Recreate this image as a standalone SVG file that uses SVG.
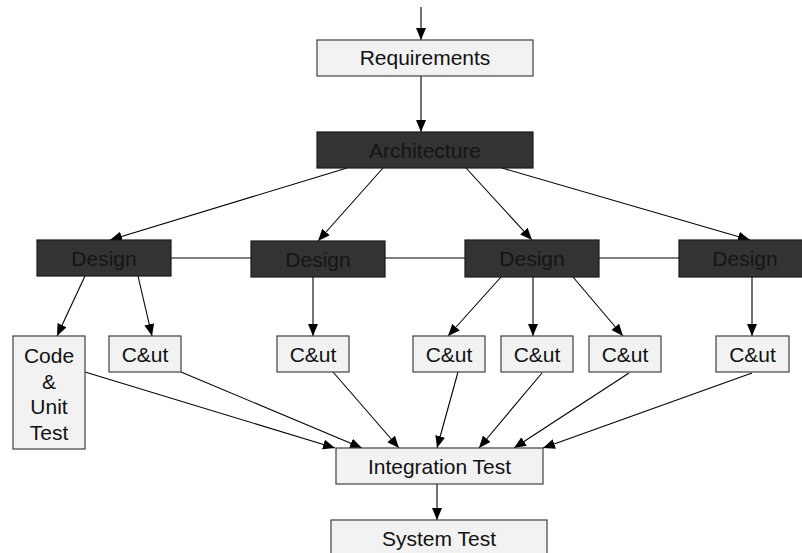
<svg xmlns="http://www.w3.org/2000/svg" width="802" height="553" viewBox="0 0 802 553">
<style>
.l{fill:#f2f2f2;stroke:#404040;stroke-width:1.2}
.d{fill:#333333;stroke:#1a1a1a;stroke-width:1.2}
text{font-family:"Liberation Sans",Arial,sans-serif;font-size:21px;text-anchor:middle}
.lt{fill:#111111}
.dt{fill:#151515}
.c line{stroke:#000;stroke-width:1.1}
.c line.a{marker-end:url(#ah)}
</style>
<defs>
<marker id="ah" markerUnits="userSpaceOnUse" markerWidth="13" markerHeight="11" refX="12" refY="5" orient="auto">
<path d="M0,0 L12,5 L0,10 z" fill="#000"/>
</marker>
</defs>
<rect width="802" height="553" fill="#fff"/>
<g class="c" id="connectors">
<line class="a" x1="421" y1="7" x2="421" y2="40"/>
<line class="a" x1="421" y1="76" x2="421" y2="132"/>
<line class="a" x1="347" y1="168" x2="110" y2="240"/>
<line class="a" x1="383" y1="168" x2="318" y2="241"/>
<line class="a" x1="466" y1="168" x2="532" y2="240"/>
<line class="a" x1="502" y1="168" x2="750" y2="240"/>
<line x1="171" y1="258" x2="251" y2="258"/>
<line x1="385" y1="258" x2="465" y2="258"/>
<line x1="599" y1="258" x2="679" y2="258"/>
<line class="a" x1="85" y1="276" x2="57" y2="336"/>
<line class="a" x1="138" y1="276" x2="152" y2="336"/>
<line class="a" x1="313" y1="277" x2="313" y2="336"/>
<line class="a" x1="501" y1="277" x2="448" y2="336"/>
<line class="a" x1="533" y1="277" x2="533" y2="336"/>
<line class="a" x1="573" y1="277" x2="623" y2="336"/>
<line class="a" x1="752" y1="277" x2="752" y2="336"/>
<line class="a" x1="85" y1="372" x2="335" y2="448"/>
<line class="a" x1="181" y1="372" x2="362" y2="448"/>
<line class="a" x1="333" y1="372" x2="399" y2="448"/>
<line class="a" x1="458" y1="372" x2="437" y2="448"/>
<line class="a" x1="542" y1="373" x2="479" y2="448"/>
<line class="a" x1="629" y1="373" x2="514" y2="448"/>
<line class="a" x1="752" y1="373" x2="543" y2="448"/>
<line class="a" x1="437" y1="484" x2="437" y2="520"/>
</g>
<g id="requirements"><rect class="l" x="317" y="40" width="216" height="36"/><text class="lt" x="425" y="65">Requirements</text></g>
<g id="architecture"><rect class="d" x="317" y="132" width="216" height="36"/><text class="dt" x="425" y="157.5">Architecture</text></g>
<g id="design1"><rect class="d" x="37" y="240" width="134" height="36"/><text class="dt" x="104" y="266">Design</text></g>
<g id="design2"><rect class="d" x="251" y="241" width="134" height="36"/><text class="dt" x="318" y="266.5">Design</text></g>
<g id="design3"><rect class="d" x="465" y="240" width="134" height="37"/><text class="dt" x="532" y="266">Design</text></g>
<g id="design4"><rect class="d" x="679" y="240" width="134" height="37"/><text class="dt" x="745" y="266">Design</text></g>
<g id="code-unit-test"><rect class="l" x="13" y="336" width="72" height="113"/>
<text class="lt" x="49" y="363">Code</text><text class="lt" x="49" y="388.5">&amp;</text><text class="lt" x="49" y="414">Unit</text><text class="lt" x="49" y="439.5">Test</text></g>
<g id="cut1"><rect class="l" x="109" y="336" width="72" height="36"/><text class="lt" x="145" y="361.5">C&amp;ut</text></g>
<g id="cut2"><rect class="l" x="277" y="336" width="72" height="36"/><text class="lt" x="313" y="361.5">C&amp;ut</text></g>
<g id="cut3"><rect class="l" x="413" y="336" width="72" height="36"/><text class="lt" x="449" y="361.5">C&amp;ut</text></g>
<g id="cut4"><rect class="l" x="501" y="336" width="72" height="36"/><text class="lt" x="537" y="361.5">C&amp;ut</text></g>
<g id="cut5"><rect class="l" x="589" y="336" width="72" height="36"/><text class="lt" x="625" y="361.5">C&amp;ut</text></g>
<g id="cut6"><rect class="l" x="716" y="336" width="73" height="36"/><text class="lt" x="752.5" y="361.5">C&amp;ut</text></g>
<g id="integration-test"><rect class="l" x="336" y="448" width="207" height="36"/><text class="lt" x="439.5" y="473.5">Integration Test</text></g>
<g id="system-test"><rect class="l" x="331" y="520" width="216" height="36"/><text class="lt" x="439" y="545.5">System Test</text></g>
</svg>
